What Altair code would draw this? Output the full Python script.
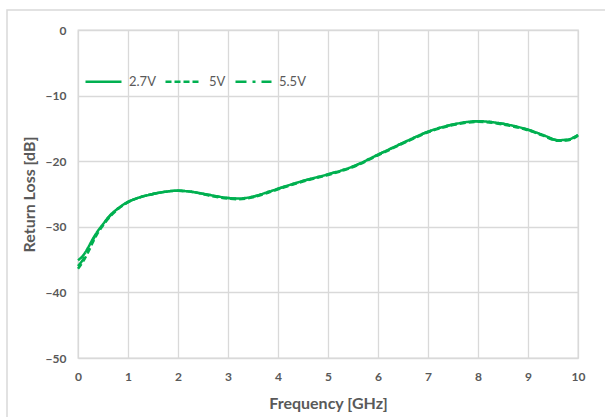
import altair as alt
import pandas as pd

# Measured return loss versus frequency at three supply voltages
freq_ghz = [0.0, 0.1, 0.2, 0.3, 0.4, 0.5, 0.6, 0.8, 1.0, 1.2, 1.5, 1.8, 2.0, 2.3,
            2.6, 3.0, 3.2, 3.5, 3.8, 4.0, 4.5, 5.0, 5.5, 6.0, 6.5, 7.0, 7.5, 8.0,
            8.5, 9.0, 9.3, 9.6, 9.8, 10.0]
rl_2v7 = [-35.1, -34.4, -33.2, -31.8, -30.6, -29.6, -28.6, -27.2, -26.2, -25.6,
          -25.0, -24.6, -24.5, -24.7, -25.1, -25.6, -25.7, -25.4, -24.7, -24.2,
          -23.0, -22.0, -20.8, -19.0, -17.2, -15.5, -14.4, -13.9, -14.3, -15.2,
          -16.0, -16.8, -16.7, -16.0]
rl_5v = [-36.4, -35.3, -33.9, -32.3, -30.9, -29.8, -28.8, -27.3, -26.3, -25.6,
         -25.0, -24.6, -24.5, -24.7, -25.2, -25.7, -25.8, -25.5, -24.8, -24.3,
         -23.1, -22.1, -20.9, -19.1, -17.3, -15.6, -14.5, -14.0, -14.4, -15.3,
         -16.1, -16.9, -16.8, -16.1]
rl_5v5 = [-36.0, -35.0, -33.6, -32.0, -30.7, -29.7, -28.7, -27.2, -26.2, -25.6,
          -25.0, -24.6, -24.5, -24.7, -25.1, -25.6, -25.7, -25.4, -24.7, -24.2,
          -23.0, -22.0, -20.8, -19.0, -17.2, -15.5, -14.4, -13.9, -14.3, -15.2,
          -16.0, -16.8, -16.7, -16.0]

series_names = ["2.7V", "5V", "5.5V"]
dash_styles = [[1, 0], [6, 3], [11, 6, 3, 6]]

GREEN = "#00b050"
GRID = "#d9d9d9"
TEXT = "#595959"
FONT = "Lato"

rows = []
for name, vals in zip(series_names, [rl_2v7, rl_5v, rl_5v5]):
    for f, v in zip(freq_ghz, vals):
        rows.append({"freq": f, "rl": v, "series": name})
df = pd.DataFrame(rows)

lines = alt.Chart(df).mark_line(
    color=GREEN, strokeWidth=2.5, interpolate="monotone"
).encode(
    x=alt.X(
        "freq:Q",
        scale=alt.Scale(domain=[0, 10], nice=False),
        axis=alt.Axis(
            title="Frequency [GHz]", values=list(range(0, 11)), format="d",
            labelPadding=13, titlePadding=13, labelFlush=False,
        ),
    ),
    y=alt.Y(
        "rl:Q",
        scale=alt.Scale(domain=[-50, 0], nice=False),
        axis=alt.Axis(
            title="Return Loss [dB]", values=[0, -10, -20, -30, -40, -50],
            format="d", labelPadding=12, titlePadding=8,
        ),
    ),
    strokeDash=alt.StrokeDash(
        "series:N",
        scale=alt.Scale(domain=series_names, range=dash_styles),
        legend=alt.Legend(
            title=None, orient="none", legendX=6, legendY=32,
            direction="horizontal", symbolType="stroke",
            symbolStrokeColor=GREEN, symbolStrokeWidth=2.5, symbolSize=1296,
            labelFont=FONT, labelFontSize=13, labelColor=TEXT,
            labelOffset=6, columnPadding=4,
        ),
    ),
    order=alt.Order("series:N"),
)

# Light outer frame around the chart
frame = alt.Chart(pd.DataFrame({"k": [0]})).mark_rect(
    fill=None, stroke=GRID, strokeWidth=1.5
).encode(
    x=alt.value(-71), x2=alt.value(540),
    y=alt.value(-20), y2=alt.value(430),
)

chart = alt.layer(frame, lines).properties(
    width=500, height=328,
    background="white",
    autosize=alt.AutoSizeParams(type="none"),
    padding={"left": 78, "top": 30, "right": 27, "bottom": 59},
).configure_axis(
    grid=True, gridColor=GRID, gridWidth=1.3, domain=False, ticks=False,
    labelFont=FONT, labelFontSize=12, labelFontWeight="bold", labelColor=TEXT,
    titleFont=FONT, titleFontSize=16, titleFontWeight="bold", titleColor=TEXT,
).configure_view(
    stroke=GRID, strokeWidth=1.3
)

chart.save("out.html", embed_options={"renderer": "svg", "actions": False})
